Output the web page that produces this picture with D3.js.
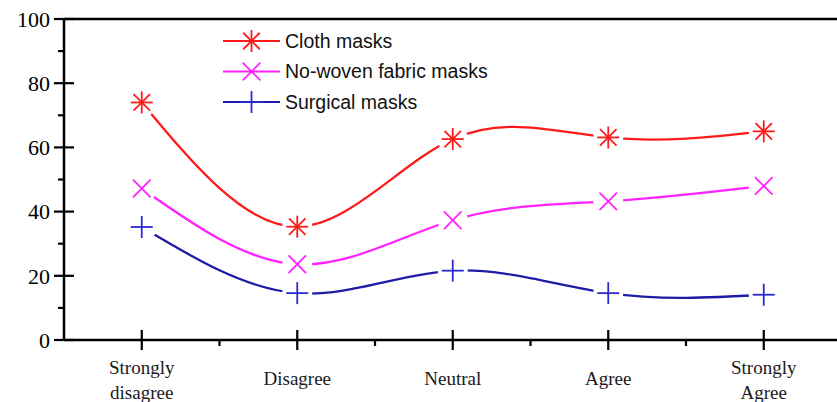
<!DOCTYPE html>
<html>
<head>
<meta charset="utf-8">
<script src="https://cdn.jsdelivr.net/npm/d3@7"></script>
<style>
  body { margin: 0; background: #fff; }
</style>
</head>
<body>
<svg id="chart" width="837" height="402"></svg>
<script>
const categories = ['Strongly\ndisagree', 'Disagree', 'Neutral', 'Agree', 'Strongly\nAgree']
const cloth = [74, 35.3, 62.6, 63.1, 65]
const nonWoven = [47.2, 23.6, 37.3, 43.2, 48]
const surgical = [35.2, 14.6, 21.6, 14.6, 14.1]
const yTicks = [0, 20, 40, 60, 80, 100]

const series = [
  { name: 'Cloth masks', values: cloth, color: '#ff1a1a', mcolor: '#ff1a1a', marker: 'asterisk' },
  { name: 'No-woven fabric masks', values: nonWoven, color: '#ff22ff', mcolor: '#ff22ff', marker: 'cross' },
  { name: 'Surgical masks', values: surgical, color: '#1c1ca6', mcolor: '#2a2ad0', marker: 'plus' },
]

const svg = d3.select('#chart')
const plotLeft = 64, plotTop = 19, plotBottom = 340
const step = 155.5

// x: index scale, -0.5 sits on the y axis
const x = d3.scaleLinear().domain([-0.5, 4.5]).range([plotLeft, plotLeft + step * 5])
const y = d3.scaleLinear().domain([0, 100]).range([plotBottom, plotTop])

// axes lines
svg.append('line').attr('x1', plotLeft).attr('x2', 837).attr('y1', plotTop).attr('y2', plotTop)
  .attr('stroke', '#000').attr('stroke-width', 2.5)
svg.append('line').attr('x1', plotLeft).attr('x2', 837).attr('y1', plotBottom).attr('y2', plotBottom)
  .attr('stroke', '#000').attr('stroke-width', 2.5)
svg.append('line').attr('x1', plotLeft).attr('x2', plotLeft).attr('y1', plotTop).attr('y2', plotBottom)
  .attr('stroke', '#000').attr('stroke-width', 2.5)

// y ticks
const yg = svg.append('g')
d3.range(0, 101, 10).forEach((v) => {
  const major = v % 20 === 0
  yg.append('line')
    .attr('x1', major ? plotLeft - 10 : plotLeft - 6).attr('x2', major ? plotLeft + 10 : plotLeft)
    .attr('y1', y(v)).attr('y2', y(v))
    .attr('stroke', '#000').attr('stroke-width', 2.2)
})
yg.selectAll('text').data(yTicks).join('text')
  .attr('x', 50).attr('y', (d) => y(d)).attr('dy', '0.35em')
  .attr('text-anchor', 'end')
  .attr('font-family', 'Liberation Serif, serif').attr('font-size', 22)
  .text((d) => d)

// x ticks
const xg = svg.append('g')
d3.range(0, 5).forEach((i) => {
  xg.append('line').attr('x1', x(i)).attr('x2', x(i))
    .attr('y1', plotBottom - 10).attr('y2', plotBottom + 10)
    .attr('stroke', '#000').attr('stroke-width', 2.2)
  xg.append('line').attr('x1', x(i + 0.5)).attr('x2', x(i + 0.5))
    .attr('y1', plotBottom).attr('y2', plotBottom + 6)
    .attr('stroke', '#000').attr('stroke-width', 2.2)
})
categories.forEach((c, i) => {
  const lines = c.split('\n')
  const t = xg.append('text')
    .attr('x', x(i)).attr('text-anchor', 'middle')
    .attr('font-family', 'Liberation Serif, serif').attr('font-size', 19)
    .attr('fill', '#1a1a1a')
  lines.forEach((l, j) => {
    t.append('tspan').attr('x', x(i))
      .attr('y', lines.length === 2 ? 374 + j * 25 : 385)
      .text(l)
  })
})

function drawMarker(g, type, cx, cy, color, r) {
  const m = g.append('g').attr('transform', `translate(${cx},${cy})`)
    .attr('stroke', color).attr('stroke-width', 1.8).attr('fill', 'none')
  if (type === 'plus' || type === 'asterisk') {
    m.append('line').attr('x1', -r).attr('x2', r).attr('y1', 0).attr('y2', 0)
    m.append('line').attr('x1', 0).attr('x2', 0).attr('y1', -r).attr('y2', r)
  }
  if (type === 'cross' || type === 'asterisk') {
    const k = type === 'asterisk' ? r * 0.75 : r * 0.8
    m.append('line').attr('x1', -k).attr('x2', k).attr('y1', -k).attr('y2', k)
    m.append('line').attr('x1', -k).attr('x2', k).attr('y1', k).attr('y2', -k)
  }
}

const defs = svg.append('defs')
const line = d3.line()
  .x((d, i) => x(i)).y((d) => y(d))
  .curve(d3.curveNatural)

series.forEach((s, si) => {
  const mask = defs.append('mask').attr('id', `gap-${si}`)
    .attr('maskUnits', 'userSpaceOnUse').attr('x', 0).attr('y', 0).attr('width', 837).attr('height', 402)
  mask.append('rect').attr('width', 837).attr('height', 402).attr('fill', '#fff')
  s.values.forEach((v, i) => {
    mask.append('circle').attr('cx', x(i)).attr('cy', y(v)).attr('r', 15).attr('fill', '#000')
  })
  svg.append('path').datum(s.values)
    .attr('d', line)
    .attr('fill', 'none').attr('stroke', s.color).attr('stroke-width', 2.3)
    .attr('mask', `url(#gap-${si})`)
  const mg = svg.append('g')
  s.values.forEach((v, i) => drawMarker(mg, s.marker, x(i), y(v), s.mcolor, 11))
})

// legend
const legend = svg.append('g')
series.forEach((s, i) => {
  const ly = 41 + i * 30.5
  legend.append('line').attr('x1', 223).attr('x2', 280).attr('y1', ly).attr('y2', ly)
    .attr('stroke', s.color).attr('stroke-width', 2)
  drawMarker(legend, s.marker, 251.5, ly, s.mcolor, 11)
  legend.append('text').attr('x', 285).attr('y', ly).attr('dy', '0.35em')
    .attr('font-family', 'Liberation Sans, Arial, sans-serif').attr('font-size', 19.5)
    .attr('fill', '#111')
    .text(s.name)
})
</script>
</body>
</html>
